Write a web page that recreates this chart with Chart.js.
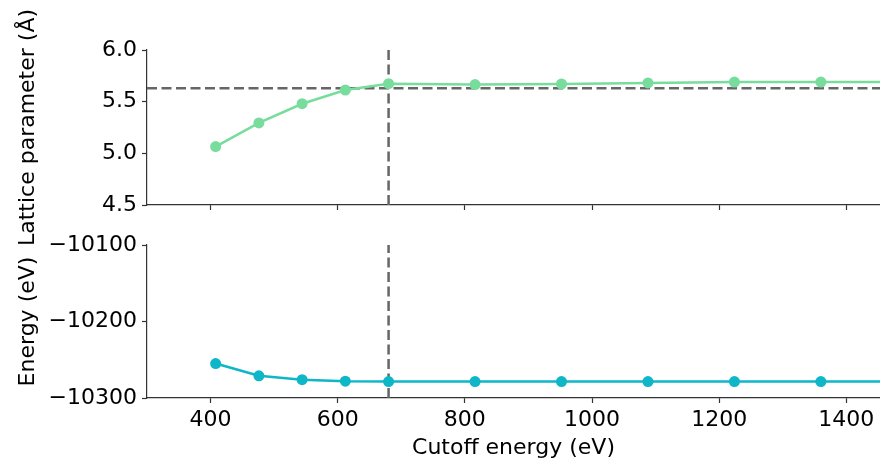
<!DOCTYPE html>
<html>
<head>
<meta charset="utf-8">
<script src="https://cdn.jsdelivr.net/npm/chart.js@4"></script>
<style>
  body { margin: 0; background: #fff; }
  #wrap { position: relative; width: 880px; height: 465px; }
  .panel { position: absolute; left: 0; width: 880px; }
  #top { top: 0; height: 250px; }
  #bottom { top: 225px; height: 240px; }
</style>
</head>
<body>
<div id="wrap">
  <div class="panel" id="top"><canvas id="latticeChart"></canvas></div>
  <div class="panel" id="bottom"><canvas id="energyChart"></canvas></div>
</div>
<script>
// cutoff energies (eV)
const cutoffs = [408, 476, 544, 612, 680, 816, 952, 1088, 1224, 1360, 1496];
// lattice parameter (Å)
const latticeValues = [5.065, 5.294, 5.48, 5.613, 5.674, 5.665, 5.671, 5.681, 5.69, 5.69, 5.69];
// total energy (eV)
const energyValues = [-10255, -10271, -10276, -10278, -10278.5, -10278.5, -10278.5, -10278.5, -10278.5, -10278.5, -10278.5];

const chosenCutoff = 680;
const referenceLattice = 5.63;

const xTicks = [400, 600, 800, 1000, 1200, 1400];
const latticeTicks = [4.5, 5.0, 5.5, 6.0];
const energyTicks = [-10300, -10200, -10100];
const xRange = [300, 1453];

const FONT = { family: 'DejaVu Sans', size: 22 };
const SPINE = '#333333';
const DASH = '#666666';

function pairs(xs, ys) {
    return xs.map((x, i) => ({ x: x, y: ys[i] }));
}

function setTicks(values) {
    return scale => { scale.ticks = values.map(v => ({ value: v })); };
}

function axisBase() {
    return {
        type: 'linear',
        border: { display: true, color: SPINE, width: 1.2 },
        grid: { drawOnChartArea: false, drawTicks: true, tickLength: 5, tickColor: SPINE, tickWidth: 1.2 },
    };
}

function makePanel(canvasId, opts) {
    const ctx = document.getElementById(canvasId).getContext('2d');
    const x = axisBase();
    x.min = xRange[0];
    x.max = xRange[1];
    x.afterBuildTicks = setTicks(xTicks);
    x.ticks = { display: opts.showX, font: FONT, color: '#000', padding: 4, maxRotation: 0, callback: v => String(v) };
    x.afterFit = s => { s.height = opts.xHeight; s.paddingLeft = 0; s.paddingRight = 0; };
    if (opts.showX) {
        x.title = { display: true, text: 'Cutoff energy (eV)', font: FONT, color: '#000', padding: { top: 0, bottom: 4 } };
    }

    const y = axisBase();
    y.min = opts.yTicks[0];
    y.max = opts.yTicks[opts.yTicks.length - 1];
    y.afterBuildTicks = setTicks(opts.yTicks);
    y.ticks = { font: FONT, color: '#000', padding: 5, callback: opts.fmt };
    y.title = { display: true, text: opts.yTitle, font: FONT, color: '#000', padding: { top: 15, bottom: 0 } };
    y.afterFit = s => { s.width = 147; s.paddingTop = 0; s.paddingBottom = 0; };

    const datasets = [{
        data: pairs(cutoffs, opts.values),
        borderColor: opts.color,
        backgroundColor: opts.color,
        borderWidth: 2.5,
        pointRadius: 5.5,
        pointBorderWidth: 0,
    }, {
        data: [{ x: chosenCutoff, y: y.min }, { x: chosenCutoff, y: y.max }],
        borderColor: DASH,
        borderWidth: 2.5,
        borderDash: [10, 4.5],
        pointRadius: 0,
    }];
    if (opts.hLine !== undefined) {
        datasets.push({
            data: [{ x: xRange[0], y: opts.hLine }, { x: xRange[1], y: opts.hLine }],
            borderColor: DASH,
            borderWidth: 2.5,
            borderDash: [10, 4.5],
            pointRadius: 0,
        });
    }

    return new Chart(ctx, {
        type: 'line',
        data: { datasets: datasets },
        options: {
            responsive: true,
            maintainAspectRatio: false,
            animation: false,
            layout: { autoPadding: false, padding: { top: opts.padTop, right: 0, bottom: 0, left: 0 } },
            plugins: { legend: { display: false }, tooltip: { enabled: false } },
            scales: { x: x, y: y },
        }
    });
}

makePanel('latticeChart', {
    values: latticeValues,
    color: '#78dc9c',
    yTicks: latticeTicks,
    fmt: v => v.toFixed(1),
    yTitle: 'Lattice parameter (Å)',
    hLine: referenceLattice,
    showX: false,
    xHeight: 45,
    padTop: 50,
});

makePanel('energyChart', {
    values: energyValues,
    color: '#0eb6c8',
    yTicks: energyTicks,
    fmt: v => String(v).replace('-', '\u2212'),
    yTitle: 'Energy (eV)',
    showX: true,
    xHeight: 67,
    padTop: 20,
});
</script>
</body>
</html>
